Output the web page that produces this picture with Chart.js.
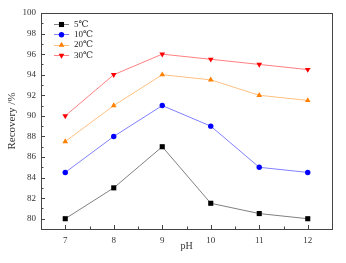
<!DOCTYPE html>
<html>
<head>
<meta charset="utf-8">
<script src="https://cdn.jsdelivr.net/npm/chart.js@4/dist/chart.umd.min.js"></script>
<style>
  html, body { margin: 0; padding: 0; background: #fff; }
  #wrap { width: 346px; height: 263px; }
</style>
</head>
<body>
<div id="wrap"><canvas id="recChart"></canvas></div>
<script>
const phVals = [7, 8, 9, 10, 11, 12];
const rec5 = [80, 83, 87, 81.5, 80.5, 80];
const rec10 = [84.5, 88, 91, 89, 85, 84.5];
const rec20 = [87.5, 91, 94, 93.5, 92, 91.5];
const rec30 = [90, 94, 96, 95.5, 95, 94.5];
const seriesNames = ['5\u2103', '10\u2103', '20\u2103', '30\u2103'];
const yTickVals = [80, 82, 84, 86, 88, 90, 92, 94, 96, 98, 100];

const serif = "'Liberation Serif', 'DejaVu Serif', serif";

function toPts(arr) {
  return arr.map((v, i) => ({ x: phVals[i], y: v }));
}

function mkSet(label, arr, lineCol, ptCol, style, rot, rad) {
  return {
    label: label,
    data: toPts(arr),
    borderColor: lineCol,
    borderWidth: 1,
    backgroundColor: ptCol,
    pointBackgroundColor: ptCol,
    pointBorderColor: ptCol,
    pointBorderWidth: 0,
    pointStyle: style,
    pointRotation: rot,
    pointRadius: rad,
    tension: 0,
    fill: false
  };
}

// inward ticks, box frame, legend inside plot
const framePlugin = {
  id: 'framePlugin',
  afterDraw(chart) {
    const ctx = chart.ctx;
    const a = chart.chartArea;
    const xs = chart.scales.x, ys = chart.scales.y;
    ctx.save();
    ctx.strokeStyle = '#444';
    ctx.lineWidth = 1;
    ctx.strokeRect(Math.round(a.left) + 0.5, Math.round(a.top) + 0.5,
      Math.round(a.right - a.left), Math.round(a.bottom - a.top));

    ctx.beginPath();
    for (let v = 79; v <= 100; v++) {
      const y = Math.round(ys.getPixelForValue(v)) + 0.5;
      const len = v % 2 === 0 ? 4 : 2.5;
      ctx.moveTo(a.left, y); ctx.lineTo(a.left + len, y);
    }
    for (let v = 7; v <= 12.01; v += 0.5) {
      const x = Math.round(xs.getPixelForValue(v)) + 0.5;
      const len = Number.isInteger(v) ? 4 : 2.5;
      ctx.moveTo(x, a.bottom); ctx.lineTo(x, a.bottom - len);
    }
    ctx.stroke();

    // legend
    const lx = a.left + 13, ly = a.top + 11, step = 10.3;
    chart.data.datasets.forEach((ds, i) => {
      const y = ly + i * step;
      ctx.strokeStyle = ds.borderColor;
      ctx.lineWidth = 1;
      ctx.beginPath();
      ctx.moveTo(lx, Math.round(y) + 0.5);
      ctx.lineTo(lx + 15, Math.round(y) + 0.5);
      ctx.stroke();
      ctx.fillStyle = ds.pointBackgroundColor;
      ctx.strokeStyle = ds.pointBackgroundColor;
      Chart.helpers.drawPoint(ctx, {
        pointStyle: ds.pointStyle,
        rotation: ds.pointRotation,
        radius: ds.pointRadius,
        borderWidth: 0
      }, lx + 7.5, y + 0.5);
      ctx.fillStyle = '#222';
      ctx.font = "9px " + serif;
      ctx.textBaseline = 'middle';
      ctx.textAlign = 'left';
      ctx.fillText(ds.label, lx + 20, y + 0.5);
    });
    ctx.restore();
  }
};

new Chart(document.getElementById('recChart'), {
  type: 'line',
  data: {
    datasets: [
      mkSet(seriesNames[0], rec5, '#808080', '#000000', 'rect', 0, 3.6),
      mkSet(seriesNames[1], rec10, '#8080ff', '#0000ff', 'circle', 0, 2.7),
      mkSet(seriesNames[2], rec20, '#ffc080', '#ff8000', 'triangle', 0, 3.3),
      mkSet(seriesNames[3], rec30, '#ff8080', '#ff0000', 'triangle', 180, 3.3)
    ]
  },
  options: {
    responsive: true,
    maintainAspectRatio: false,
    animation: false,
    layout: { padding: { top: 13, right: 14, left: 0, bottom: 0 } },
    plugins: {
      legend: { display: false },
      tooltip: { enabled: false }
    },
    scales: {
      x: {
        type: 'linear',
        min: 6.5,
        max: 12.5,
        afterBuildTicks: s => { s.ticks = phVals.map(v => ({ value: v })); },
        afterFit: s => { s.height = 34; },
        grid: { display: false, drawTicks: false },
        border: { display: false },
        ticks: { color: '#333', font: { family: serif, size: 9 }, padding: 6 },
        title: {
          display: true, text: 'pH', color: '#333',
          font: { family: serif, size: 10 }, padding: { top: 11, bottom: 11 }
        }
      },
      y: {
        min: 79,
        max: 100,
        afterBuildTicks: s => { s.ticks = yTickVals.map(v => ({ value: v })); },
        afterFit: s => { s.width = 41; },
        grid: { display: false, drawTicks: false },
        border: { display: false },
        ticks: { color: '#333', font: { family: serif, size: 9 }, padding: 5 },
        title: {
          display: true, text: 'Recovery /%', color: '#333',
          font: { family: serif, size: 11 }, padding: { top: 6, bottom: 6 }
        }
      }
    }
  },
  plugins: [framePlugin]
});
</script>
</body>
</html>
